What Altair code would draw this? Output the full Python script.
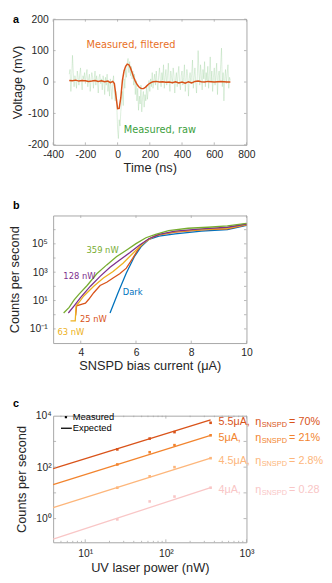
import altair as alt
import pandas as pd

FONT = "Liberation Sans"
ANN_FONT = "DejaVu Sans"
FRAME = "#a6a6a6"
TXT = "#262626"

# ---------------- panel a : pulse trace ----------------
a_filt_t = [-300, -280, -260, -240, -220, -200, -180, -160, -140, -120, -100, -80, -60,
            -45, -30, -20, -10,
            0, 10, 20, 30, 40, 50, 60, 70, 80, 90, 100, 110, 120, 130, 140, 150, 160, 170,
            180, 190, 200, 210, 220,
            240, 260, 280, 300, 320, 340, 360, 380, 400, 420, 440, 460, 480, 500, 520, 540,
            560, 580, 600, 620, 640, 660, 680, 700]
a_filt_v = [5, 4, 6, 3, 5, 4, 2, 3, 5, 2, 4, 1, 3,
            -2, 2, -5, -45,
            -85, -84, -50, 5, 35, 50, 57, 55, 45, 30, 15, 3, -7, -14, -19, -21, -21, -18,
            -13, -8, -4, -1, 1,
            2, 0, 1, -1, 0, -2, 1, -3, 0, -4, 1, -3, 2, 3, 1, 0,
            2, 1, 0, 1, 2, 1, 0, 0]

a_raw_t = list(range(-300, 705, 5))
a_raw_v = [
    25, 40, -30, 10, 85, 30, -15, 20, 5, -20, 35, 15, -10, 25, 45, 0, -25, 20, 10, 30,
    -5, 20, 40, -15, 10, 25, -30, 5, 30, 15, -20, 10, 35, -10, 20, 0, -35, 15, 25, -5,
    10, -25, 20, 5, -40, 15, -10, 25, -30, 0, -45, 10, -20, -55, -5, 20, -35, -60, -30, -70,
    -150, -180, -120, -140, -95, -60, -30, -75, 10, -20, 40, 15, 60, 75, 30, 65, 20, 50, 10, 35,
    -10, 25, -40, 5, -60, -20, -90, -45, -70, -10, -95, -50, -30, -80, -40, -60, -15, -55, -25, 5,
    -30, 10, -15, 30, -20, 5, 25, -10, 35, 0, -25, 20, 45, 10, -15, 30, 5, 55, -20, 15,
    40, -10, 20, 60, 5, -30, 35, 15, -5, 45, 20, -35, 10, 30, -15, 25, 50, 0, -25, 20,
    35, -10, 15, 55, -30, 5, 40, 20, -45, 10, 30, -5, 25, 70, -20, 15, 45, 0, -35, 20,
    100, 30, -10, 55, 20, -25, 40, 10, 65, -15, 30, 5, 50, -20, 25, 80, 0, 35, -30, 15,
    45, -10, 25, 60, -40, 20, 35, 5, 55, 108, -15, 30, -60, 10, 40, -5, 25, 55, -20, 15,
    5]

a_x_ticks = [-400, -200, 0, 200, 400, 600, 800]
a_y_ticks = [-200, -100, 0, 100, 200]
a_labels = ["Measured, filtered", "Measured, raw"]
a_label_t = [-193, 39]
a_label_v = [119, -153]
a_label_colors = ["#E8701F", "#3CA03C"]

# ---------------- panel b : counts vs bias ----------------
b_series = ["Dark", "25 nW", "63 nW", "128 nW", "359 nW"]
b_colors = ["#0072BD", "#D95319", "#EDB120", "#7E2F8E", "#77AC30"]

b_dark_I = [5.06, 5.35, 5.65, 5.94, 6.18, 6.47, 6.83, 7.42, 8.37, 9.31, 10.0]
b_dark_v = [1.32, 35.6, 865, 12300, 60800, 207000, 352000, 509000, 780000, 1020000, 2030000]

b_25_I = [3.815, 3.85, 4.05, 4.17, 4.29, 4.47, 4.70, 4.94, 5.17, 5.41, 5.65, 5.88, 6.06,
          6.24, 6.47, 6.83, 7.42, 8.37, 9.31, 10.0]
b_25_v = [0.9, 4.26, 5.55, 6.5, 12.3, 35.6, 115, 195, 390, 778, 1920, 9460, 35700,
          104000, 230000, 435000, 665000, 964000, 1130000, 2140000]

b_63_I = [3.63, 3.80, 3.83, 3.93, 4.11, 4.47, 4.82, 5.17, 5.53, 5.88, 6.12, 6.36, 6.71,
          7.42, 8.37, 9.31, 10.0]
b_63_v = [0.37, 0.37, 4.26, 7.24, 21, 103, 390, 1130, 4270, 21000, 60800, 150000, 391000,
          740000, 1020000, 1260000, 2260000]

b_128_I = [3.55, 3.76, 3.99, 4.35, 4.70, 5.06, 5.41, 5.77, 6.12, 6.47, 6.83, 7.42, 8.37,
           9.31, 10.0]
b_128_v = [1.32, 4.26, 16.1, 103, 509, 2250, 7260, 23300, 79300, 230000, 458000, 780000,
           1130000, 1480000, 2510000]

b_359_I = [3.38, 3.58, 3.76, 3.93, 4.23, 4.58, 4.94, 5.29, 5.65, 6.00, 6.36, 6.71, 7.18,
           7.89, 8.60, 9.31, 10.0]
b_359_v = [1.32, 3.26, 11.1, 27.4, 115, 778, 3270, 12300, 35700, 104000, 269000, 458000,
           867000, 1260000, 1480000, 1820000, 2790000]

b_label_I = [5.52, 3.97, 3.16, 3.37, 4.21]
b_label_v = [40, 0.51, 0.06, 510, 38000]

b_x_ticks = [4, 6, 8, 10]
b_y_ticks = [0.1, 10, 1000, 100000]
b_y_minor = [0.1, 1, 10, 100, 1000, 10000, 100000, 1000000]

# ---------------- panel c : counts vs laser power ----------------
c_series = ["5.5μA,", "5μA,", "4.5μA,", "4μA,"]
c_colors = ["#D95319", "#F2842E", "#FDB67B", "#F9C6C6"]
c_eff = ["= 70%", "= 21%", "= 2.8%", "= 0.28%"]
c_power = [25, 63, 128, 359]
c_meas = [
    [490, 1290, 2300, 5300],
    [127, 380, 715, 1730],
    [15.9, 44, 100, 223],
    [0.93, 4.65, 7.2, 15.9],
]
c_exp_power = [4, 359]
c_exp = [
    [87, 6900],
    [21, 1730],
    [2.65, 223],
    [0.16, 15.9],
]
c_x_ticks = [10, 100, 1000]
c_x_minor = [5, 6, 7, 8, 9, 20, 30, 40, 50, 60, 70, 80, 90, 200, 300, 400, 500, 600, 700, 800, 900]
c_y_ticks = [1, 100, 10000]
c_y_minor = [1, 10, 100, 1000]

W = 197
HA, HB, HC = 128, 130, 129


def letter(s, y):
    return alt.Chart(pd.DataFrame({"s": [s]})).mark_text(
        font=FONT, fontSize=11, fontWeight="bold", align="left", baseline="top", color="black"
    ).encode(text="s:N", x=alt.value(-41), y=alt.value(y))


def xticks(vals, scale, axis, H, L):
    d = pd.DataFrame({"tk": vals})
    base = alt.Chart(d).mark_rule(color=FRAME, strokeWidth=0.8)
    enc = alt.X("tk:Q", scale=scale, axis=axis)
    return [base.encode(x=enc, y=alt.value(H), y2=alt.value(H - L)),
            base.encode(x=enc, y=alt.value(0), y2=alt.value(L))]


def yticks(vals, scale, axis, Wd, L):
    d = pd.DataFrame({"tk": vals})
    base = alt.Chart(d).mark_rule(color=FRAME, strokeWidth=0.8)
    enc = alt.Y("tk:Q", scale=scale, axis=axis)
    return [base.encode(y=enc, x=alt.value(0), x2=alt.value(L)),
            base.encode(y=enc, x=alt.value(Wd), x2=alt.value(Wd - L))]


# ----- panel a -----
xa = alt.Scale(domain=[-400, 800], nice=False, zero=False)
ya = alt.Scale(domain=[-200, 200], nice=False, zero=False)
axa = alt.Axis(values=a_x_ticks, title="Time (ns)", labelExpr="'' + datum.value",
               labelPadding=5, titlePadding=2)
aya = alt.Axis(values=a_y_ticks, title="Voltage (mV)", labelExpr="'' + datum.value",
               labelPadding=5, titlePadding=3)
df_raw = pd.DataFrame({"t": a_raw_t, "v": a_raw_v})
df_filt = pd.DataFrame({"t": a_filt_t, "v": a_filt_v})
df_alab = pd.DataFrame({"t": a_label_t, "v": a_label_v, "lab": a_labels})

raw = alt.Chart(df_raw).mark_line(color="#8cc78c", opacity=0.38, strokeWidth=0.8).encode(
    x=alt.X("t:Q", scale=xa, axis=axa), y=alt.Y("v:Q", scale=ya, axis=aya))
filt = alt.Chart(df_filt).mark_line(color="#D95319", strokeWidth=1.5).encode(
    x=alt.X("t:Q", scale=xa, axis=axa), y=alt.Y("v:Q", scale=ya, axis=aya))
alab = alt.Chart(df_alab).mark_text(font=ANN_FONT, fontSize=10, align="left", baseline="middle").encode(
    x=alt.X("t:Q", scale=xa, axis=axa), y=alt.Y("v:Q", scale=ya, axis=aya), text="lab:N",
    color=alt.Color("lab:N", scale=alt.Scale(domain=a_labels, range=a_label_colors), legend=None))

panel_a = alt.layer(
    raw, filt, alab,
    *xticks(a_x_ticks, xa, axa, HA, 2.5), *yticks(a_y_ticks, ya, aya, W, 2.5),
    letter("a", -5),
).properties(width=W, height=HA)

# ----- panel b -----
xb = alt.Scale(domain=[3, 10], nice=False, zero=False)
yb = alt.Scale(type="log", domain=[0.01, 1e7], nice=False)
axb = alt.Axis(values=b_x_ticks, title="SNSPD bias current (μA)", labelPadding=5, titlePadding=1.5)
ayb = alt.Axis(values=b_y_ticks, title="Counts per second", labelPadding=6, titlePadding=7,
               labelExpr="datum.value < 1 ? '10⁻¹' : datum.value < 100 ? '10¹' : datum.value < 10000 ? '10³' : '10⁵'")
b_data = {
    "Dark": (b_dark_I, b_dark_v),
    "25 nW": (b_25_I, b_25_v),
    "63 nW": (b_63_I, b_63_v),
    "128 nW": (b_128_I, b_128_v),
    "359 nW": (b_359_I, b_359_v),
}
b_layers = []
for i, name in enumerate(b_series):
    I, v = b_data[name]
    d = pd.DataFrame({"I": I, "v": v})
    b_layers.append(alt.Chart(d).mark_line(color=b_colors[i], strokeWidth=1.3).encode(
        x=alt.X("I:Q", scale=xb, axis=axb), y=alt.Y("v:Q", scale=yb, axis=ayb)))

df_blab = pd.DataFrame({"I": b_label_I, "v": b_label_v, "lab": b_series})
blab = alt.Chart(df_blab).mark_text(font=ANN_FONT, fontSize=8.5, align="left", baseline="middle").encode(
    x=alt.X("I:Q", scale=xb, axis=axb), y=alt.Y("v:Q", scale=yb, axis=ayb), text="lab:N",
    color=alt.Color("lab:N", scale=alt.Scale(domain=b_series, range=b_colors), legend=None))

panel_b = alt.layer(
    *b_layers, blab,
    *xticks(b_x_ticks, xb, axb, HB, 2.5), *yticks(b_y_minor, yb, ayb, W, 2.5),
    letter("b", -16),
).properties(width=W, height=HB)

# ----- panel c -----
xc = alt.Scale(type="log", domain=[4, 1000], nice=False)
yc = alt.Scale(type="log", domain=[0.12, 10000], nice=False)
axc = alt.Axis(values=c_x_ticks, title="UV laser power (nW)", labelPadding=7, titlePadding=2,
               labelExpr="datum.value < 50 ? '10¹' : datum.value < 500 ? '10²' : '10³'")
ayc = alt.Axis(values=c_y_ticks, title="Counts per second", titlePadding=7, labelPadding=2,
               labelExpr="datum.value < 10 ? '10⁰' : datum.value < 1000 ? '10²' : '10⁴'")
rows_e, rows_m, rows_l = [], [], []
for i, name in enumerate(c_series):
    for p, v in zip(c_exp_power, c_exp[i]):
        rows_e.append({"P": p, "v": v, "s": name})
    for p, v in zip(c_power, c_meas[i]):
        rows_m.append({"P": p, "v": v, "s": name})
    rows_l.append({"P": c_exp_power[-1], "v": c_exp[i][-1], "s": name, "eff": c_eff[i]})
df_ce = pd.DataFrame(rows_e)
df_cm = pd.DataFrame(rows_m)
df_cl = pd.DataFrame(rows_l)
df_cl["eta"] = "η"
df_cl["sub"] = "SNSPD"
ccolor = alt.Color("s:N", scale=alt.Scale(domain=c_series, range=c_colors), legend=None)

c_lines = alt.Chart(df_ce).mark_line(strokeWidth=1.3).encode(
    x=alt.X("P:Q", scale=xc, axis=axc), y=alt.Y("v:Q", scale=yc, axis=ayc),
    color=ccolor, detail="s:N")
c_pts = alt.Chart(df_cm).mark_point(shape="square", filled=True, size=7, opacity=1).encode(
    x=alt.X("P:Q", scale=xc, axis=axc), y=alt.Y("v:Q", scale=yc, axis=ayc), color=ccolor)


def ctext(field, dx, dy, size, limit=0):
    kw = dict(font=FONT, fontSize=size, align="left", baseline="middle", dx=dx, dy=dy)
    if limit:
        kw.update(limit=limit, ellipsis=" ")
    return alt.Chart(df_cl).mark_text(**kw).encode(
        x=alt.X("P:Q", scale=xc, axis=axc), y=alt.Y("v:Q", scale=yc, axis=ayc),
        text=field, color=ccolor)


c_t1 = ctext("s:N", 8, 2.5, 11)
c_t2 = ctext("eta:N", 45.5, 2.5, 11)
c_t3 = ctext("sub:N", 52, 5.5, 7.5)
c_t4 = ctext("eff:N", 80, 2.5, 11, limit=35)

leg = pd.DataFrame({"a": ["Measured"], "b": ["Expected"]})
leg_pt = alt.Chart(leg).mark_point(shape="square", filled=True, size=5, color="black", opacity=1).encode(
    x=alt.value(13), y=alt.value(1.5))
leg_t1 = alt.Chart(leg).mark_text(font=FONT, fontSize=9.5, align="left", baseline="middle", color="black").encode(
    text="a:N", x=alt.value(20), y=alt.value(1.5))
leg_rule = alt.Chart(leg).mark_rule(color="black", strokeWidth=1.3).encode(
    x=alt.value(8), x2=alt.value(19), y=alt.value(12.8))
leg_t2 = alt.Chart(leg).mark_text(font=FONT, fontSize=9.5, align="left", baseline="middle", color="black").encode(
    text="b:N", x=alt.value(20), y=alt.value(12.8))

panel_c = alt.layer(
    c_lines, c_pts, c_t1, c_t2, c_t3, c_t4,
    leg_pt, leg_t1, leg_rule, leg_t2,
    *xticks(c_x_ticks, xc, axc, HC, 3), *xticks(c_x_minor, xc, axc, HC, 1.5),
    *yticks(c_y_minor, yc, ayc, W, 3),
    letter("c", -18),
).properties(width=W, height=HC)

chart = alt.vconcat(panel_a, panel_b, panel_c, spacing=24).resolve_scale(
    color="independent"
).properties(
    padding={"left": 0, "top": 0, "right": 0, "bottom": 0}
).configure_view(stroke=FRAME, strokeWidth=1).configure_axis(
    labelFont=FONT, labelFontSize=10.5, labelColor=TXT, titleFont=FONT, titleFontSize=13,
    titleFontWeight="normal", titleColor=TXT, domain=False, ticks=False, tickSize=0, grid=False,
    labelOverlap=False, labelFlush=False
)

chart.save("out.html", embed_options={"renderer": "svg", "actions": False})
